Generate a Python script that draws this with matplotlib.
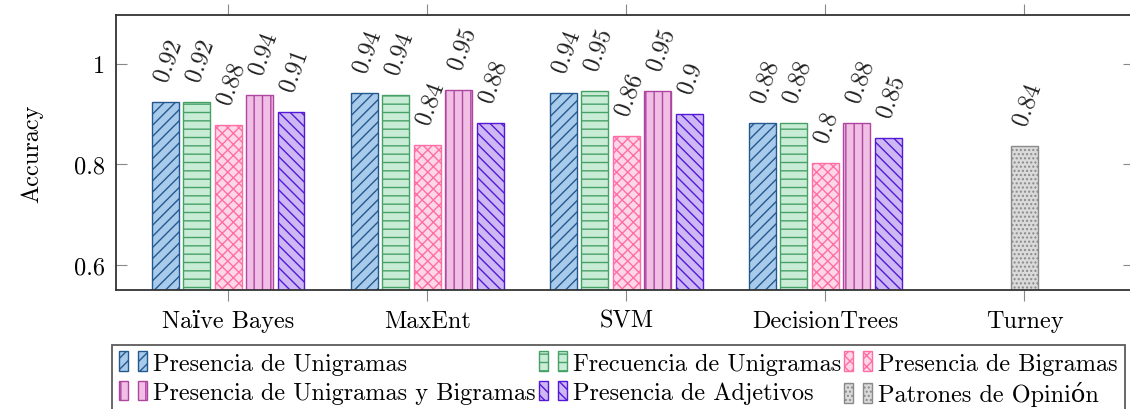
import numpy as np
import matplotlib
matplotlib.use("Agg")
import matplotlib.pyplot as plt
from matplotlib.patches import Rectangle, Patch
from matplotlib.legend_handler import HandlerBase
from matplotlib.ticker import FormatStrFormatter

plt.rcParams['font.family'] = ['cmr10', 'DejaVu Serif']
plt.rcParams['axes.formatter.use_mathtext'] = True
plt.rcParams['hatch.linewidth'] = 1.0

methods = ["Naïve Bayes", "MaxEnt", "SVM", "DecisionTrees"]
series_names = ["Presencia de Unigramas", "Frecuencia de Unigramas", "Presencia de Bigramas",
                "Presencia de Unigramas y Bigramas", "Presencia de Adjetivos"]
# rows = series, columns = methods
accuracy = [
    [0.924, 0.942, 0.942, 0.883],
    [0.923, 0.938, 0.945, 0.882],
    [0.879, 0.839, 0.857, 0.803],
    [0.938, 0.948, 0.946, 0.883],
    [0.904, 0.883, 0.900, 0.853],
]
labels = [
    ["0.92", "0.94", "0.94", "0.88"],
    ["0.92", "0.94", "0.95", "0.88"],
    ["0.88", "0.84", "0.86", "0.8"],
    ["0.94", "0.95", "0.95", "0.88"],
    ["0.91", "0.88", "0.9", "0.85"],
]
turney_name = "Patrones de Opinión"
turney_category = "Turney"
turney_value = 0.837
turney_label = "0.84"

styles = [
    dict(facecolor="#a9cbeb", edgecolor="#24598f", hatch="///"),
    dict(facecolor="#c8ecd6", edgecolor="#46a167", hatch="--"),
    dict(facecolor="#fdd6e8", edgecolor="#ff6fa3", hatch="xxx"),
    dict(facecolor="#f1bfe5", edgecolor="#ae45a0", hatch="||"),
    dict(facecolor="#cdb8f4", edgecolor="#5518d6", hatch="\\\\\\"),
]
turney_style = dict(facecolor="#dadada", edgecolor="#8a8a8a", hatch="....")


class TwoBoxHandler(HandlerBase):
    def create_artists(self, legend, orig_handle, xdescent, ydescent,
                       width, height, fontsize, trans):
        w = width * 0.32
        h = height * 1.1
        y0 = -ydescent - height * 0.05
        arts = []
        for x0 in (-xdescent, -xdescent + width - w):
            r = Rectangle((x0, y0), w, h, facecolor=orig_handle.get_facecolor(),
                          edgecolor=orig_handle.get_edgecolor(),
                          hatch=orig_handle.get_hatch(), linewidth=1.0, transform=trans)
            arts.append(r)
        return arts


fig = plt.figure(figsize=(11.3, 4.1), dpi=100)
ax = fig.add_axes([116 / 1130, 1 - 291 / 410, (1134 - 116) / 1130, (291 - 16) / 410])

x = np.arange(len(methods))
width = 0.135
step = 0.158
fs = 17.5
off = (-3, 16)

for i in range(len(series_names)):
    pos = x + (i - 2) * step
    ax.bar(pos, accuracy[i], width, bottom=0, linewidth=1.0, **styles[i])
    for p, v, t in zip(pos, accuracy[i], labels[i]):
        ax.annotate(t, (p, v), xytext=off, textcoords="offset points",
                    rotation=70, rotation_mode="anchor", ha="left", va="center",
                    fontsize=fs, color="#222222")

tx = len(methods)
ax.bar([tx], [turney_value], width, linewidth=1.0, **turney_style)
ax.annotate(turney_label, (tx, turney_value), xytext=off, textcoords="offset points",
            rotation=70, rotation_mode="anchor", ha="left", va="center",
            fontsize=fs, color="#222222")

ax.set_xlim(-0.563, 4.55)
ax.set_ylim(0.55, 1.097)
ax.set_xticks(list(x) + [tx])
ax.set_xticklabels(methods + [turney_category], fontsize=fs)
ax.set_yticks([0.6, 0.8, 1.0])
ax.yaxis.set_major_formatter(FormatStrFormatter('%g'))
ax.tick_params(axis='y', direction='in', left=True, right=True, length=8,
               color='#888888', labelsize=fs, pad=8)
ax.tick_params(axis='x', direction='out', top=True, bottom=True, length=8,
               color='#888888', pad=6)
ax.set_ylabel("Accuracy", fontsize=fs, labelpad=22)
for s in ax.spines.values():
    s.set_color('#333333')
    s.set_linewidth(1.3)

handles = [Patch(**styles[i]) for i in range(5)] + [Patch(**turney_style)]
names = series_names + [turney_name]
order = [0, 3, 1, 4, 2, 5]
leg = fig.legend([handles[k] for k in order], [names[k] for k in order],
                 loc='upper left', bbox_to_anchor=(112 / 1130, 1 - 346 / 410),
                 ncol=3, fontsize=fs, frameon=True, fancybox=False,
                 edgecolor='#333333', borderaxespad=0, borderpad=0.3,
                 handlelength=1.15, handleheight=0.75, handletextpad=0.25,
                 columnspacing=0.12, labelspacing=0.28,
                 handler_map={Patch: TwoBoxHandler()})
leg.get_frame().set_linewidth(1.3)

fig.savefig("out.png", dpi=100)
